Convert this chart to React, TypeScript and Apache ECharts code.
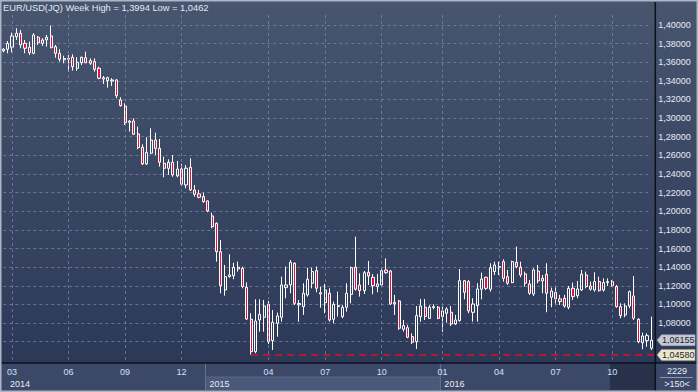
import { useEffect, useRef } from "react";
import * as echarts from "echarts";

// Weekly EUR/USD candles: open, close, low, high
const opens = [
  1.3722, 1.3739, 1.3761, 1.3874, 1.3911, 1.3803, 1.3761, 1.3696, 1.3868, 1.3804,
  1.3839, 1.3882, 1.3767, 1.3696, 1.3625, 1.3632, 1.3653, 1.3535, 1.3595, 1.3649,
  1.3617, 1.3606, 1.3535, 1.3434, 1.3402, 1.3410, 1.3410, 1.3195, 1.3130, 1.2955,
  1.2969, 1.2830, 1.2687, 1.2508, 1.2623, 1.2765, 1.2676, 1.2515, 1.2461, 1.2526,
  1.2379, 1.2454, 1.2282, 1.2472, 1.2229, 1.2186, 1.2157, 1.2111, 1.1950, 1.1871,
  1.1566, 1.1155, 1.1298, 1.1307, 1.1381, 1.1388, 1.1184, 1.0841, 1.0493, 1.0833,
  1.0862, 1.1001, 1.0611, 1.0797, 1.0862, 1.1180, 1.1209, 1.1442, 1.0995, 1.0976,
  1.1101, 1.1227, 1.1362, 1.1126, 1.1019, 1.1120, 1.0841, 1.0976, 1.0869, 1.0969,
  1.1108, 1.1399, 1.1209, 1.1148, 1.1345, 1.1291, 1.1191, 1.1209, 1.1370, 1.1359,
  1.1005, 1.1037, 1.0733, 1.0750, 1.0654, 1.0600, 1.0869, 1.0970, 1.0850, 1.0966,
  1.0970, 1.0869, 1.0905, 1.0916, 1.0790, 1.0826, 1.1255, 1.1245, 1.0915, 1.0987,
  1.1163, 1.1291, 1.1163, 1.1352, 1.1396, 1.1459, 1.1298, 1.1234, 1.1452, 1.1399,
  1.1327, 1.1220, 1.1112, 1.1359, 1.1252, 1.1324, 1.1077, 1.1130, 1.1059, 1.1066,
  1.0970, 1.1173, 1.1094, 1.1155, 1.1316, 1.1198, 1.1155, 1.1245, 1.1155, 1.1234,
  1.1245, 1.1191, 1.0976, 1.0887, 1.0983, 1.1091, 1.0841, 1.0589, 1.0611, 1.0530,
];
const closes = [
  1.3740, 1.3803, 1.3882, 1.3911, 1.3785, 1.3750, 1.3703, 1.3893, 1.3810, 1.3839,
  1.3868, 1.3756, 1.3696, 1.3632, 1.3640, 1.3642, 1.3552, 1.3600, 1.3653, 1.3595,
  1.3589, 1.3524, 1.3428, 1.3420, 1.3434, 1.3399, 1.3241, 1.3134, 1.2951, 1.2969,
  1.2827, 1.2683, 1.2508, 1.2633, 1.2765, 1.2676, 1.2526, 1.2461, 1.2526, 1.2390,
  1.2454, 1.2290, 1.2462, 1.2229, 1.2182, 1.2150, 1.2103, 1.2003, 1.1835, 1.1566,
  1.1201, 1.1298, 1.1316, 1.1398, 1.1399, 1.1191, 1.0843, 1.0493, 1.0822, 1.0894,
  1.0983, 1.0600, 1.0808, 1.0876, 1.1209, 1.1209, 1.1452, 1.1012, 1.1010, 1.1120,
  1.1270, 1.1352, 1.1173, 1.1112, 1.1155, 1.0833, 1.1001, 1.0987, 1.0969, 1.1120,
  1.1394, 1.1163, 1.1148, 1.1340, 1.1305, 1.1201, 1.1220, 1.1362, 1.1341, 1.1005,
  1.1023, 1.0744, 1.0772, 1.0647, 1.0594, 1.0880, 1.0983, 1.0869, 1.0970, 1.0976,
  1.0850, 1.0930, 1.0951, 1.0790, 1.0833, 1.1255, 1.1130, 1.0930, 1.1005, 1.1166,
  1.1273, 1.1173, 1.1394, 1.1424, 1.1406, 1.1280, 1.1227, 1.1459, 1.1406, 1.1316,
  1.1227, 1.1120, 1.1370, 1.1252, 1.1280, 1.1120, 1.1144, 1.1059, 1.1030, 1.0983,
  1.1173, 1.1084, 1.1166, 1.1324, 1.1191, 1.1163, 1.1245, 1.1148, 1.1234, 1.1245,
  1.1201, 1.0976, 1.0880, 1.0983, 1.1137, 1.0851, 1.0600, 1.0661, 1.0665, 1.06155,
];
const lows = [
  1.3707, 1.3696, 1.3707, 1.3839, 1.3750, 1.3696, 1.3678, 1.3685, 1.3785, 1.3775,
  1.3767, 1.3750, 1.3649, 1.3606, 1.3589, 1.3499, 1.3509, 1.3509, 1.3571, 1.3589,
  1.3571, 1.3499, 1.3417, 1.3367, 1.3327, 1.3345, 1.3213, 1.3123, 1.2926, 1.2855,
  1.2819, 1.2666, 1.2497, 1.2497, 1.2612, 1.2604, 1.2479, 1.2365, 1.2390, 1.2371,
  1.2365, 1.2272, 1.2247, 1.2218, 1.2157, 1.2140, 1.2092, 1.1990, 1.1818, 1.1459,
  1.1120, 1.1094, 1.1287, 1.1270, 1.1352, 1.1173, 1.0833, 1.0462, 1.0476, 1.0707,
  1.0707, 1.0575, 1.0511, 1.0654, 1.0815, 1.1066, 1.1120, 1.0994, 1.0815, 1.0887,
  1.1084, 1.1173, 1.1130, 1.0965, 1.0905, 1.0815, 1.0798, 1.0869, 1.0851, 1.0922,
  1.1012, 1.1148, 1.1084, 1.1112, 1.1209, 1.1109, 1.1130, 1.1198, 1.1327, 1.0994,
  1.0887, 1.0726, 1.0708, 1.0637, 1.0575, 1.0522, 1.0815, 1.0833, 1.0844, 1.0948,
  1.0841, 1.0707, 1.0804, 1.0769, 1.0780, 1.0815, 1.1055, 1.0905, 1.0815, 1.0815,
  1.1055, 1.1155, 1.1137, 1.1316, 1.1316, 1.1244, 1.1209, 1.1227, 1.1388, 1.1291,
  1.1191, 1.1102, 1.1091, 1.1227, 1.1120, 1.0916, 1.0970, 1.1001, 1.0994, 1.0965,
  1.0948, 1.1048, 1.1066, 1.1144, 1.1173, 1.1148, 1.1137, 1.1137, 1.1137, 1.1198,
  1.1191, 1.0965, 1.0851, 1.0862, 1.0959, 1.0833, 1.0583, 1.0519, 1.0546, 1.0511,
];
const highs = [
  1.3752, 1.3828, 1.3917, 1.3965, 1.3946, 1.3839, 1.3821, 1.3911, 1.3882, 1.3857,
  1.3893, 1.3994, 1.3785, 1.3739, 1.3670, 1.3678, 1.3685, 1.3653, 1.3660, 1.3713,
  1.3642, 1.3642, 1.3552, 1.3452, 1.3445, 1.3428, 1.3418, 1.3224, 1.3159, 1.2980,
  1.2998, 1.2908, 1.2719, 1.2795, 1.2891, 1.2844, 1.2776, 1.2586, 1.2558, 1.2604,
  1.2540, 1.2508, 1.2497, 1.2569, 1.2282, 1.2229, 1.2200, 1.2115, 1.1985, 1.1880,
  1.1690, 1.1424, 1.1537, 1.1447, 1.1459, 1.1406, 1.1236, 1.0905, 1.1055, 1.1055,
  1.1048, 1.1037, 1.0940, 1.0912, 1.1298, 1.1406, 1.1477, 1.1452, 1.1048, 1.1227,
  1.1394, 1.1394, 1.1406, 1.1191, 1.1220, 1.1173, 1.1030, 1.1137, 1.0994, 1.1227,
  1.1406, 1.1727, 1.1334, 1.1359, 1.1466, 1.1327, 1.1327, 1.1388, 1.1495, 1.1370,
  1.1102, 1.1048, 1.0833, 1.0780, 1.0690, 1.0983, 1.1058, 1.1058, 1.0994, 1.1002,
  1.0983, 1.0976, 1.0969, 1.0983, 1.0887, 1.1380, 1.1262, 1.1262, 1.1066, 1.1227,
  1.1341, 1.1298, 1.1442, 1.1459, 1.1459, 1.1484, 1.1370, 1.1470, 1.1620, 1.1459,
  1.1352, 1.1262, 1.1388, 1.1424, 1.1316, 1.1442, 1.1180, 1.1191, 1.1102, 1.1102,
  1.1198, 1.1234, 1.1252, 1.1370, 1.1352, 1.1245, 1.1345, 1.1298, 1.1280, 1.1280,
  1.1262, 1.1209, 1.1012, 1.1012, 1.1148, 1.1305, 1.0851, 1.0697, 1.0690, 1.0869,
];

// Axis labelling
const monthTickIndex = [2, 15, 28, 41, 61, 74, 87, 101, 114, 127, 140];
const monthTickLabels = ["03", "06", "09", "12", "04", "07", "10", "01", "04", "07", "10"];
const yearStartIndex = [0, 47, 101];
const yearLabels = ["2014", "2015", "2016"];
const referenceLow = 1.0458;
const lowCandleIndex = 57;
const viewStartIndex = 140;
const counterText = "2229";
const zoomText = ">150<";
const instrument = "EUR/USD(JQ) Week";

const FONT = "'Liberation Sans', Arial, sans-serif";
const PX_PER_UNIT = 931.5;

export default function App() {
  const ref = useRef<HTMLDivElement>(null);

  useEffect(() => {
    const el = ref.current!;
    const chart = echarts.init(el, undefined, { renderer: "svg", width: 698, height: 392 });
    const n = opens.length;
    const categories = Array.from({ length: n }, (_, i) => String(i));
    const candles = opens.map((o, i) => [o, closes[i], lows[i], highs[i]]);
    const fmt = (v: number, d: number) => v.toFixed(d).replace(".", ",");
    const hi = Math.max(...highs);
    const lo = Math.min(...lows);
    const lastClose = closes[n - 1];
    const monthMap = new Map<number, string>(monthTickIndex.map((idx, k) => [idx, monthTickLabels[k]]));
    const gridColor = "rgba(128,143,175,0.65)";
    const splitColors = ["rgba(0,0,0,0)"].concat(Array(18).fill(gridColor));
    const nearTag = (v: number) =>
      Math.abs(v - lastClose) * PX_PER_UNIT < 11 || Math.abs(v - referenceLow) * PX_PER_UNIT < 11;

    chart.setOption({
      animation: false,
      backgroundColor: new echarts.graphic.LinearGradient(0, 0, 0, 1, [
        { offset: 0, color: "#47556f" },
        { offset: 1, color: "#2a3656" },
      ]),
      title: {
        text: `${instrument} High = ${fmt(hi, 4)} Low = ${fmt(lo, 4)}`,
        left: 3,
        top: 3,
        padding: 0,
        textStyle: { color: "#e4e9f2", fontSize: 9.3, fontWeight: "normal", fontFamily: FONT },
      },
      grid: { left: 3.3, right: 46.7, top: 15, bottom: 29 },
      xAxis: {
        type: "category",
        data: categories,
        boundaryGap: false,
        z: 10,
        axisLine: { show: false },
        axisTick: { show: false },
        axisLabel: {
          interval: (i: number) => monthMap.has(i),
          formatter: (_v: string, i: number) => monthMap.get(i) ?? "",
          color: "#d3e0fa",
          fontSize: 9,
          fontFamily: FONT,
          margin: 4,
        },
        splitLine: {
          show: true,
          interval: (i: number) => monthMap.has(i),
          lineStyle: { color: gridColor, type: [3, 3], width: 1 },
        },
      },
      yAxis: {
        type: "value",
        position: "right",
        offset: 4,
        min: 1.0371,
        max: 1.4107,
        splitNumber: 18,
        axisLine: { show: false },
        axisTick: { show: false },
        axisLabel: {
          color: "#e6ebf4",
          fontSize: 9,
          fontFamily: FONT,
          margin: 3,
          showMinLabel: false,
          showMaxLabel: false,
          formatter: (v: number) => {
            const k = v * 50;
            if (Math.abs(k - Math.round(k)) > 1e-6) return "";
            if (v < 1.059 || v > 1.401) return "";
            if (nearTag(v)) return "";
            return fmt(v, 5);
          },
        },
        splitLine: {
          show: true,
          showMinLine: false,
          showMaxLine: false,
          lineStyle: { color: splitColors, type: [3, 3], width: 1 },
        },
      },
      series: [
        {
          type: "candlestick",
          data: candles,
          barWidth: 2.6,
          clip: false,
          itemStyle: {
            color: "rgba(0,0,0,0)",
            color0: "#e3123c",
            borderColor: "#ffffff",
            borderColor0: "#ffffff",
            borderWidth: 1,
          },
        },
      ],
    });

    const xAt = (i: number) => chart.convertToPixel({ xAxisIndex: 0 }, i) as number;
    const yAt = (v: number) => chart.convertToPixel({ yAxisIndex: 0 }, v) as number;
    const slot = xAt(1) - xAt(0);
    const bound = (i: number) => (i === 0 ? 0 : xAt(i) - slot / 2);
    const axisX = 655.3;
    const axisY = 363;
    const yearEnds = yearStartIndex.map((_, k) =>
      k + 1 < yearStartIndex.length ? bound(yearStartIndex[k + 1]) : axisX
    );
    const yLast = yAt(lastClose);
    const yLow = yAt(referenceLow);

    const tag = (y: number, fill: string, text: string) => ({
      type: "group",
      z: 20,
      children: [
        {
          type: "polygon",
          z: 20,
          shape: {
            points: [
              [657, y],
              [661.5, y - 5.5],
              [695, y - 5.5],
              [695, y + 5.5],
              [661.5, y + 5.5],
            ],
          },
          style: { fill, stroke: "#9aa0ab", lineWidth: 0.5 },
        },
        {
          type: "text",
          z: 21,
          x: 662,
          y,
          style: { text, fill: "#1d2333", fontSize: 9, fontFamily: FONT, verticalAlign: "middle", align: "left" },
        },
      ],
    });

    const graphics: any[] = [
      { type: "rect", z: -10, shape: { x: 0, y: axisY, width: 698, height: 392 - axisY }, style: { fill: "#3c4867" } },
      {
        type: "rect",
        z: -9,
        shape: { x: bound(yearStartIndex[1]), y: 377, width: yearEnds[1] - bound(yearStartIndex[1]), height: 13 },
        style: { fill: "#4a5879" },
      },
      {
        type: "rect",
        z: -9,
        shape: { x: bound(viewStartIndex), y: axisY, width: axisX - bound(viewStartIndex), height: 27 },
        style: { fill: "#28314a" },
      },
      ...yearStartIndex.slice(1).map((idx) => ({
        type: "line",
        z: -8,
        shape: { x1: bound(idx), y1: axisY, x2: bound(idx), y2: 390 },
        style: { stroke: "#66738f", lineWidth: 1 },
      })),
      {
        type: "line",
        z: -8,
        shape: { x1: bound(yearStartIndex[1]), y1: 377, x2: yearEnds[1], y2: 377 },
        style: { stroke: "#5a6786", lineWidth: 1 },
      },
      ...yearLabels.map((t, k) => ({
        type: "text",
        z: 5,
        x: (k === 0 ? 6 : bound(yearStartIndex[k])) + 4,
        y: 383.5,
        style: { text: t, fill: "#e6ebf4", fontSize: 9, fontFamily: FONT, verticalAlign: "middle" },
      })),
      {
        type: "line",
        z: 6,
        shape: { x1: 0, y1: axisY, x2: 698, y2: axisY },
        style: { stroke: "#0d111c", lineWidth: 1.5 },
      },
      {
        type: "line",
        z: 6,
        shape: { x1: axisX, y1: 2, x2: axisX, y2: 392 },
        style: { stroke: "#0d111c", lineWidth: 1.5 },
      },
      {
        type: "line",
        z: 6,
        shape: { x1: 660, y1: 377.5, x2: 693, y2: 377.5 },
        style: { stroke: "#8c98b2", lineWidth: 1 },
      },
      {
        type: "text",
        z: 6,
        x: 677,
        y: 371,
        style: { text: counterText, fill: "#e6ebf4", fontSize: 9, fontFamily: FONT, align: "center", verticalAlign: "middle" },
      },
      {
        type: "text",
        z: 6,
        x: 677,
        y: 383.5,
        style: { text: zoomText, fill: "#e6ebf4", fontSize: 9, fontFamily: FONT, align: "center", verticalAlign: "middle" },
      },
      {
        type: "line",
        z: 8,
        shape: { x1: xAt(lowCandleIndex), y1: yLow, x2: axisX, y2: yLow },
        style: { stroke: "#b4182f", lineWidth: 2, lineDash: [7, 5] },
      },
      tag(yLast, "#c6cad2", fmt(lastClose, 5)),
      tag(yLow, "#ebe7c8", fmt(referenceLow, 5)),
      {
        type: "rect",
        z: 30,
        shape: { x: 0.75, y: 0.75, width: 696.5, height: 390.5 },
        style: { fill: "none", stroke: "#aeb5c4", lineWidth: 1.5 },
      },
    ];
    chart.setOption({ graphic: graphics });

    return () => chart.dispose();
  }, []);

  return <div ref={ref} style={{ position: "fixed", left: 0, top: 0, width: 698, height: 392 }} />;
}
